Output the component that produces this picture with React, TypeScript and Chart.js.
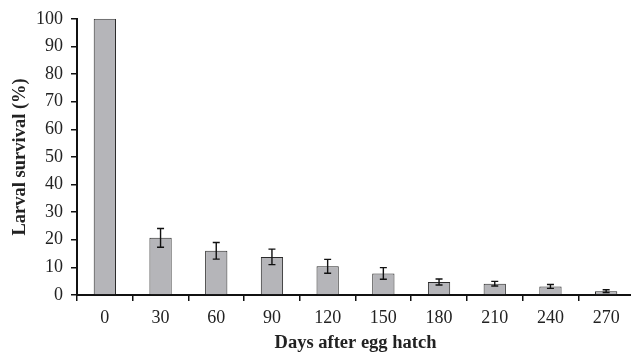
import React, { useEffect, useRef } from "react";
import { Chart, registerables } from "chart.js";

Chart.register(...registerables);

const categories = ["0", "30", "60", "90", "120", "150", "180", "210", "240", "270"];
const survival = [100, 20.7, 16.0, 13.8, 10.4, 7.8, 4.7, 4.1, 3.1, 1.4];
const errors = [0, 3.4, 3.0, 2.8, 2.5, 2.1, 1.1, 0.85, 0.7, 0.5];
const yTicks = [0, 10, 20, 30, 40, 50, 60, 70, 80, 90, 100];

const serif = "'Liberation Serif', 'Times New Roman', serif";

const errorBarPlugin = {
  id: "errorBars",
  afterDatasetsDraw(chart: any) {
    const meta = chart.getDatasetMeta(0);
    const yScale = chart.scales.y;
    const ctx = chart.ctx;
    ctx.save();
    ctx.strokeStyle = "#111";
    ctx.lineWidth = 1.4;
    meta.data.forEach((bar: any, i: number) => {
      const e = errors[i];
      if (!e) return;
      const v = survival[i];
      const x = bar.x;
      const yTop = yScale.getPixelForValue(v + e);
      const yBot = yScale.getPixelForValue(v - e);
      const cap = 3.5;
      ctx.beginPath();
      ctx.moveTo(x, yTop);
      ctx.lineTo(x, yBot);
      ctx.moveTo(x - cap, yTop);
      ctx.lineTo(x + cap, yTop);
      ctx.moveTo(x - cap, yBot);
      ctx.lineTo(x + cap, yBot);
      ctx.stroke();
    });
    ctx.restore();
  },
};

export default function App() {
  const ref = useRef<HTMLCanvasElement>(null);
  useEffect(() => {
    if (!ref.current) return;
    const chart = new Chart(ref.current, {
      type: "bar",
      data: {
        labels: categories,
        datasets: [
          {
            data: survival,
            backgroundColor: "#b5b5b9",
            borderColor: "#2a2a2a",
            borderWidth: 1,
            barPercentage: 0.4,
            categoryPercentage: 1,
          },
        ],
      },
      options: {
        animation: false,
        responsive: false,
        maintainAspectRatio: false,
        layout: { padding: { left: 0, right: 0, top: 16, bottom: 0 } },
        plugins: { legend: { display: false }, tooltip: { enabled: false } },
        scales: {
          x: {
            offset: true,
            grid: {
              offset: true,
              drawOnChartArea: false,
              drawTicks: true,
              tickLength: 6,
              color: "#111",
              lineWidth: 1.5,
            },
            border: { display: true, color: "#111", width: 2 },
            ticks: {
              color: "#222",
              font: { family: serif, size: 18 },
              padding: 6,
              maxRotation: 0,
            },
            title: {
              display: true,
              text: "Days after egg hatch",
              color: "#222",
              font: { family: serif, size: 18.5, weight: "bold" },
              padding: { top: 2, bottom: 0 },
            },
            afterFit: (scale: any) => {
              scale.height = 59;
            },
          },
          y: {
            min: 0,
            max: 100,
            afterBuildTicks: (scale: any) => {
              scale.ticks = yTicks.map((v) => ({ value: v }));
            },
            grid: {
              drawOnChartArea: false,
              drawTicks: true,
              tickLength: 6,
              color: "#111",
              lineWidth: 1.5,
            },
            border: { display: true, color: "#111", width: 2 },
            ticks: {
              color: "#222",
              font: { family: serif, size: 18 },
              padding: 8,
            },
            title: {
              display: true,
              text: "Larval survival (%)",
              color: "#222",
              font: { family: serif, size: 18.5, weight: "bold" },
              padding: { top: 9, bottom: 0 },
            },
            afterFit: (scale: any) => {
              scale.width = 77;
            },
          },
        },
      },
      plugins: [errorBarPlugin],
    });
    return () => chart.destroy();
  }, []);
  return (
    <div
      style={{
        position: "fixed",
        left: 0,
        top: 0,
        width: 631,
        height: 354,
        overflow: "hidden",
        background: "#fff",
      }}
    >
      <canvas ref={ref} width={634} height={354} style={{ display: "block" }} />
    </div>
  );
}
